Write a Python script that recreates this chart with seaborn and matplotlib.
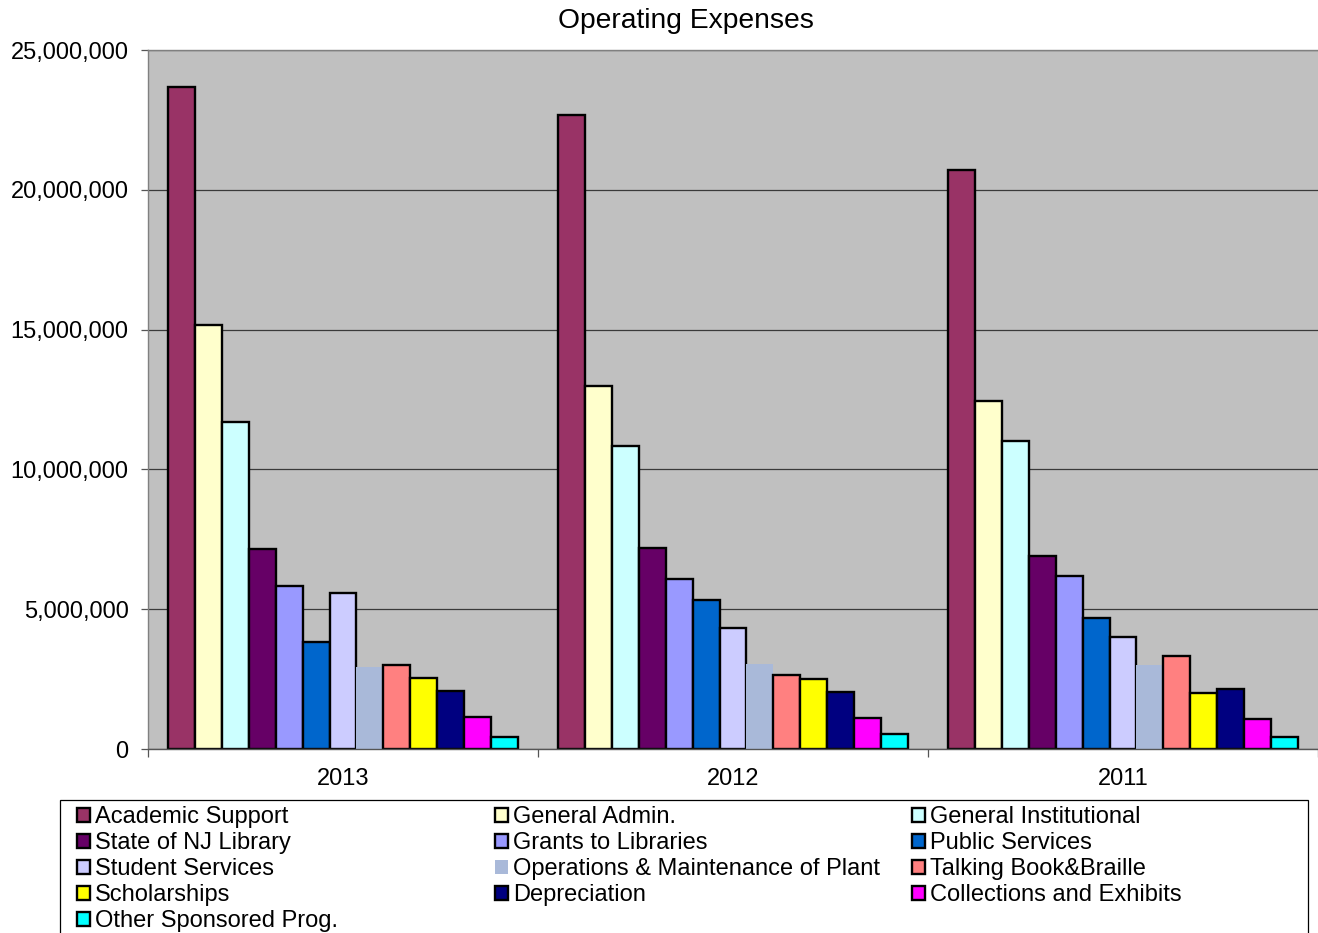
import matplotlib
matplotlib.use("Agg")
import matplotlib.pyplot as plt
from matplotlib.patches import Patch, Rectangle
from matplotlib.ticker import FuncFormatter, MultipleLocator, FixedLocator
import numpy as np
import pandas as pd
import seaborn as sns

# ---- data -------------------------------------------------------------
years = ["2013", "2012", "2011"]

categories = [
    "Academic Support",
    "General Admin.",
    "General Institutional",
    "State of NJ Library",
    "Grants to Libraries",
    "Public Services",
    "Student Services",
    "Operations & Maintenance of Plant",
    "Talking Book&Braille",
    "Scholarships",
    "Depreciation",
    "Collections and Exhibits",
    "Other Sponsored Prog.",
]

academic_support = [23_660_000, 22_690_000, 20_720_000]
general_admin = [15_150_000, 12_990_000, 12_440_000]
general_institutional = [11_680_000, 10_840_000, 11_010_000]
state_nj_library = [7_170_000, 7_180_000, 6_920_000]
grants_to_libraries = [5_830_000, 6_070_000, 6_200_000]
public_services = [3_830_000, 5_330_000, 4_680_000]
student_services = [5_590_000, 4_320_000, 4_020_000]
operations_plant = [2_920_000, 3_040_000, 3_000_000]
talking_book = [3_020_000, 2_660_000, 3_320_000]
scholarships = [2_540_000, 2_490_000, 2_020_000]
depreciation = [2_060_000, 2_030_000, 2_140_000]
collections = [1_160_000, 1_110_000, 1_060_000]
other_sponsored = [440_000, 540_000, 440_000]

series = [
    academic_support, general_admin, general_institutional, state_nj_library,
    grants_to_libraries, public_services, student_services, operations_plant,
    talking_book, scholarships, depreciation, collections, other_sponsored,
]

colors = [
    "#993366", "#FFFFCC", "#CCFFFF", "#660066", "#9999FF", "#0066CC",
    "#CCCCFF", "#A9B9D9", "#FF8080", "#FFFF00", "#000080", "#FF00FF",
    "#00FFFF",
]

df = pd.DataFrame(
    [(y, c, v[i]) for c, v in zip(categories, series) for i, y in enumerate(years)],
    columns=["year", "category", "value"],
)

# ---- figure -----------------------------------------------------------
FONT = ["Liberation Sans", "DejaVu Sans"]
plt.rcParams["font.family"] = FONT

W, H = 1318, 933
fig = plt.figure(figsize=(W / 100, H / 100), dpi=100)
ax = fig.add_axes([148 / W, (H - 749) / H, (W - 148) / W, 699 / H])
ax.set_facecolor("#C0C0C0")

sns.barplot(
    data=df, x="year", y="value", hue="category",
    order=years, hue_order=categories, palette=colors,
    width=0.897, saturation=1, errorbar=None,
    edgecolor="black", linewidth=1.7, legend=False, ax=ax,
)

# the plant operations series is drawn without an outline
no_edge = categories.index("Operations & Maintenance of Plant")
for bar in ax.containers[no_edge]:
    bar.set_linewidth(0)

ax.set_xlim(-0.5, 2.5)
ax.set_ylim(0, 25_000_000)
ax.set_xlabel("")
ax.set_ylabel("")

ax.yaxis.set_major_locator(MultipleLocator(5_000_000))
ax.yaxis.set_major_formatter(FuncFormatter(lambda v, p: f"{int(v):,}"))
ax.set_axisbelow(True)
ax.grid(axis="y", color="#3a3a3a", linewidth=0.9)
ax.grid(axis="x", visible=False)

ax.tick_params(axis="y", direction="out", length=5, width=0.9, color="#555555",
               pad=9, labelsize=17)
ax.tick_params(axis="x", which="major", length=0, pad=14, labelsize=17)
ax.xaxis.set_minor_locator(FixedLocator([-0.5, 0.5, 1.5, 2.5]))
ax.tick_params(axis="x", which="minor", direction="out", length=6, width=0.9,
               color="#555555")

for side in ("left", "top"):
    ax.spines[side].set_color("#808080")
    ax.spines[side].set_linewidth(1.0)
ax.spines["bottom"].set_color("#555555")
ax.spines["bottom"].set_linewidth(1.0)
ax.spines["right"].set_visible(False)

fig.text(686 / W, 1 - 21 / H, "Operating Expenses", ha="center", va="center",
         fontsize=20.3)

# ---- legend: three columns filled row by row ---------------------------
handles = [
    Patch(facecolor=c, edgecolor="black" if i != no_edge else "none",
          linewidth=1.7, label=cat)
    for i, (cat, c) in enumerate(zip(categories, colors))
]
col_x = [77, 495, 912]
for col in range(3):
    idx = list(range(col, len(categories), 3))
    fig.legend(
        handles=[handles[i] for i in idx],
        labels=[categories[i] for i in idx],
        loc="upper left",
        bbox_to_anchor=(col_x[col] / W, 1 - 806 / H),
        frameon=False, borderpad=0, borderaxespad=0,
        handlelength=0.55, handleheight=0.55, handletextpad=0.2,
        labelspacing=0.17, fontsize=17,
    )

fig.patches.append(Rectangle((60 / W, -0.05), (1308 - 60) / W, 0.05 + 1 - 800 / H,
                             transform=fig.transFigure, fill=False,
                             edgecolor="black", linewidth=0.9))

fig.savefig("out.png", dpi=100, facecolor="white")
